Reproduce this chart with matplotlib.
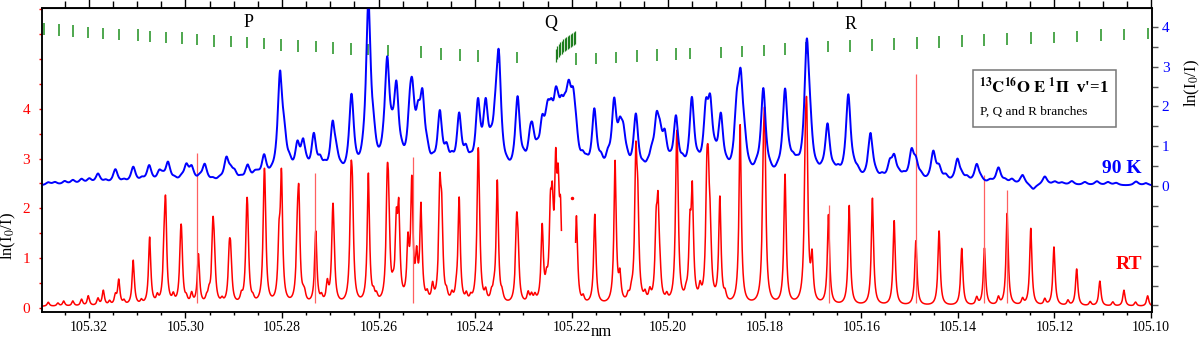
import numpy as np
import matplotlib
matplotlib.use("Agg")
import matplotlib.pyplot as plt
from matplotlib.ticker import MultipleLocator, FormatStrFormatter
from matplotlib.patches import Rectangle

plt.rcParams["font.family"] = ["Liberation Serif", "DejaVu Serif"]
plt.rcParams["mathtext.fontset"] = "stix"

# --- RT spectrum: line centres (nm) and peak heights ln(I0/I), left axis
rt_nm = [105.3284, 105.3264, 105.3252, 105.3233, 105.3215, 105.3201, 105.3181,
         105.3170, 105.3157, 105.3145, 105.3138, 105.3127, 105.3108, 105.3091,
         105.3074, 105.3058, 105.3041, 105.3044, 105.3025, 105.3008, 105.3010,
         105.2998, 105.2987, 105.2973, 105.2956, 105.2951, 105.2943, 105.2940,
         105.2924, 105.2909, 105.2906, 105.2884, 105.2873, 105.2871, 105.2860,
         105.2837, 105.2835, 105.2806, 105.2801, 105.2768, 105.2765, 105.2756,
         105.2753, 105.2730, 105.2718, 105.2706, 105.2695, 105.2693, 105.2657,
         105.2654, 105.2621, 105.2610, 105.2604, 105.2582, 105.2579, 105.2570,
         105.2563, 105.2558, 105.2539, 105.2531, 105.2521, 105.2512, 105.2499,
         105.2488, 105.2473, 105.2469, 105.2459, 105.2448, 105.2439, 105.2433,
         105.2418, 105.2409, 105.2394, 105.2392, 105.2378, 105.2366, 105.2361,
         105.2354, 105.2344, 105.2314, 105.2311, 105.2290, 105.2283, 105.2276,
         105.2261, 105.2252, 105.2244, 105.2240, 105.2233, 105.2228, 105.2223,
         105.2190, 105.2176, 105.2152,
         105.2110, 105.2100, 105.2083, 105.2076, 105.2067, 105.2063, 105.2048,
         105.2038, 105.2025, 105.2021, 105.2017, 105.2003, 105.1983, 105.1981,
         105.1963, 105.1955, 105.1950, 105.1934, 105.1920, 105.1917, 105.1913,
         105.1893, 105.1882, 105.1851, 105.1803, 105.1800, 105.1758, 105.1716,
         105.1713, 105.1702, 105.1668, 105.1625, 105.1577, 105.1532, 105.1487,
         105.1439, 105.1392, 105.1361, 105.1345, 105.1316, 105.1298, 105.1266,
         105.1249, 105.1220, 105.1201, 105.1172, 105.1154, 105.1126, 105.1106,
         105.1079, 105.1056, 105.1032, 105.1007]
rt_peak = [0.08, 0.06, 0.1, 0.1, 0.13, 0.2, 0.14,
           0.3, 0.08, 0.18, 0.5, 0.08, 0.9, 0.08,
           1.35, 0.14, 1.8, 0.8, 0.15, 1.0, 0.8,
           0.1, 0.2, 1.0, 0.1, 0.18, 1.4, 0.7,
           0.08, 0.9, 0.8, 0.14, 1.3, 1.1, 0.08,
           1.75, 1.3, 1.1, 2.45, 1.1, 1.85, 0.1,
           0.14, 1.45, 0.12, 0.38, 1.25, 1.0, 2.05,
           1.6, 2.6, 0.15, 0.12, 2.0, 1.5, 0.15,
           1.4, 1.7, 1.1, 2.35, 0.8, 1.9, 0.15,
           0.32, 2.1, 1.5, 0.15, 0.15, 0.15, 2.1,
           0.15, 0.1, 2.1, 1.4, 0.2, 0.15, 0.15,
           2.45, 0.15, 1.45, 0.8, 0.2, 0.15, 0.13,
           1.5, 0.3, 1.5, 1.5, 2.3, 1.8, 1.5,
           1.75, 0.12, 1.8,
           2.85, 0.5, 0.12, 0.15, 2.7, 1.6, 0.15,
           0.2, 1.3, 1.7, 0.35, 0.12, 1.9, 2.0,
           0.12, 1.3, 2.1, 0.25, 2.0, 1.8, 1.1,
           2.1, 0.15, 3.6, 1.9, 3.0, 2.6, 2.2,
           3.0, 0.85, 1.8, 2.0, 2.15, 1.7, 1.3,
           1.5, 1.15, 0.15, 1.15, 0.15, 1.85, 0.12,
           1.55, 0.12, 1.18, 0.1, 0.74, 0.08, 0.5,
           0.08, 0.32, 0.08, 0.21]

# thin saturated spikes on top of some RT lines
rt_spike_nm = [105.2975, 105.2731, 105.2528, 105.1668, 105.1487, 105.1345, 105.1298]
rt_spike_top = [3.12, 2.7, 3.04, 2.07, 4.7, 2.67, 2.37]

# Q-branch region with no RT data, and the isolated point inside it
rt_gap = [105.2192, 105.2221]
rt_dot_nm = [105.2200]
rt_dot_val = [2.2]

# --- 90 K spectrum: line centres (nm) and peak heights, right axis
k90_nm = [105.3284, 105.3270, 105.3250, 105.3233, 105.3215, 105.3199, 105.3181,
          105.3165, 105.3145, 105.3127, 105.3108, 105.3090, 105.3075, 105.3054,
          105.3047, 105.3036, 105.3022, 105.3008, 105.2998, 105.2987, 105.2970,
          105.2960, 105.2943, 105.2929, 105.2915, 105.2906, 105.2898, 105.2885,
          105.2871, 105.2856, 105.2850, 105.2837, 105.2821, 105.2804, 105.2795,
          105.2784, 105.2768, 105.2756, 105.2748, 105.2734, 105.2721, 105.2711,
          105.2695, 105.2687, 105.2678, 105.2656, 105.2632, 105.2621, 105.2610,
          105.2597, 105.2589, 105.2582, 105.2572, 105.2563, 105.2552, 105.2535,
          105.2530, 105.2518, 105.2509, 105.2499, 105.2487, 105.2473, 105.2459,
          105.2448, 105.2433, 105.2419, 105.2409, 105.2394, 105.2378, 105.2367,
          105.2358, 105.2351, 105.2334, 105.2312, 105.2299, 105.2286, 105.2281,
          105.2271, 105.2261, 105.2253, 105.2249, 105.2242, 105.2233, 105.2228,
          105.2221, 105.2214, 105.2207, 105.2204, 105.2197, 105.2191, 105.2177,
          105.2169, 105.2153, 105.2139, 105.2125, 105.2112, 105.2100, 105.2093,
          105.2085, 105.2067, 105.2052, 105.2042, 105.2034, 105.2024, 105.2017,
          105.2007, 105.1996, 105.1984, 105.1970, 105.1951, 105.1938, 105.1922,
          105.1913, 105.1903, 105.1891, 105.1879, 105.1858, 105.1850, 105.1842,
          105.1831, 105.1817, 105.1803, 105.1789, 105.1773, 105.1758, 105.1748,
          105.1741, 105.1733, 105.1713, 105.1706, 105.1692, 105.1682, 105.1670,
          105.1657, 105.1648, 105.1627, 105.1615, 105.1607, 105.1581, 105.1570,
          105.1557, 105.1541, 105.1532, 105.1522, 105.1512, 105.1496, 105.1487,
          105.1476, 105.1451, 105.1439, 105.1425, 105.1401, 105.1392, 105.1381,
          105.1361, 105.1352, 105.1333, 105.1316, 105.1302, 105.1288, 105.1266,
          105.1244, 105.1220, 105.1199, 105.1184, 105.1164, 105.1137, 105.1112,
          105.1089, 105.1072, 105.1031, 105.1010]
k90_peak = [0.07, 0.07, 0.09, 0.11, 0.13, 0.13, 0.26,
            0.08, 0.37, 0.08, 0.42, 0.1, 0.44, 0.25,
            0.1, 0.5, 0.08, 0.1, 0.4, 0.35, 0.1,
            0.45, 0.08, 0.08, 0.58, 0.2, 0.2, 0.08,
            0.4, 0.15, 0.1, 0.6, 0.08, 2.55, 0.7,
            0.25, 0.75, 0.8, 0.1, 1.05, 0.35, 0.2,
            1.3, 0.35, 0.1, 2.05, 0.1, 4.3, 0.55,
            0.05, 0.2, 2.65, 0.35, 2.0, 0.2, 1.1,
            1.5, 1.0, 1.7, 0.35, 0.2, 1.55, 0.55,
            0.3, 1.5, 0.5, 0.2, 1.75, 1.6, 0.35,
            0.8, 2.8, 0.1, 1.95, 0.2, 0.65, 0.75,
            0.3, 1.0, 0.35, 0.9, 0.9, 1.2, 0.6,
            0.9, 0.8, 1.0, 0.6, 1.3, 0.6, 0.3,
            0.2, 1.65, 0.3, 0.35, 1.75, 0.85, 0.8,
            0.2, 1.55, 0.15, 0.15, 0.4, 1.2, 0.7,
            0.85, 0.15, 1.45, 0.25, 1.95, 0.15, 1.45,
            1.55, 0.2, 1.45, 0.1, 1.4, 2.1, 0.55,
            0.05, 0.15, 2.25, 0.1, 0.12, 2.2, 0.12,
            0.25, 0.18, 3.25, 0.7, 0.08, 0.08, 1.35,
            0.12, 0.17, 2.15, 0.12, 0.17, 1.2, 0.08,
            0.12, 0.4, 0.55, 0.12, 0.12, 0.72, 0.42,
            0.12, 0.75, 0.32, 0.15, 0.58, 0.12, 0.12,
            0.47, 0.08, 0.08, 0.41, 0.08, 0.12, 0.25,
            -0.12, 0.22, 0.08, 0.06, 0.1, 0.08, 0.1,
            0.08, 0.06, 0.1, 0.06]

# --- rotational line markers (nm) and their heights on the left axis
p_mark_nm = [105.3293, 105.3262, 105.3233, 105.3201, 105.3170, 105.3138, 105.3099,
             105.3074, 105.3040, 105.3008, 105.2975, 105.2941, 105.2906, 105.2872,
             105.2837, 105.2802, 105.2766, 105.2730, 105.2694, 105.2656, 105.2621,
             105.2581, 105.2511, 105.2471, 105.2431, 105.2394, 105.2353, 105.2313]
p_mark_y = [5.60, 5.58, 5.56, 5.53, 5.51, 5.49, 5.48,
            5.45, 5.43, 5.42, 5.39, 5.36, 5.35, 5.33,
            5.31, 5.28, 5.26, 5.25, 5.22, 5.20, 5.19,
            5.17, 5.14, 5.10, 5.08, 5.06, 5.04, 5.03]
r_mark_nm = [105.2191, 105.2150, 105.2108, 105.2065, 105.2024, 105.1983, 105.1954,
             105.1891, 105.1848, 105.1802, 105.1758, 105.1715, 105.1670, 105.1624,
             105.1577, 105.1532, 105.1485, 105.1439, 105.1392, 105.1345, 105.1298,
             105.1249, 105.1201, 105.1153, 105.1104, 105.1056, 105.1006]
r_mark_y = [5.00, 5.01, 5.03, 5.06, 5.08, 5.10, 5.11,
            5.13, 5.15, 5.17, 5.20, 5.22, 5.25, 5.26,
            5.28, 5.30, 5.32, 5.34, 5.36, 5.38, 5.40,
            5.42, 5.43, 5.45, 5.48, 5.49, 5.51]
q_mark_nm = [105.2233, 105.2230, 105.2227, 105.2224, 105.2221, 105.2218, 105.2214,
             105.2211, 105.2208, 105.2205, 105.2202, 105.2199, 105.2196, 105.2193]
q_mark_y = [5.07, 5.13, 5.17, 5.20, 5.23, 5.26, 5.28,
            5.31, 5.33, 5.35, 5.37, 5.39, 5.41, 5.43]


def line_profile(x, centres, heights, hwhm):
    c = np.asarray(centres)[:, None]
    h = np.asarray(heights)[:, None]
    return (h * hwhm**2 / ((x[None, :] - c) ** 2 + hwhm**2)).sum(axis=0)


wl = np.linspace(105.0998, 105.3297, 12000)
rt = line_profile(wl, rt_nm, rt_peak, 0.00028) + 0.03
rt[(wl > rt_gap[0]) & (wl < rt_gap[1])] = np.nan
k90 = line_profile(wl, k90_nm, k90_peak, 0.0006)

fig = plt.figure(figsize=(12, 3.4), dpi=100)
ax = fig.add_axes([0.035, 0.0832, 0.925, 0.8918])
ax2 = ax.twinx()

# RT (left axis)
ax.plot(wl, rt, color="#ff0000", lw=1.1)
ax.vlines(rt_spike_nm, 0.1, rt_spike_top, color="#ff6060", lw=0.9)
ax.plot(rt_dot_nm, rt_dot_val, "o", color="#ff0000", ms=1.5)

# line markers
ax.vlines(p_mark_nm, np.array(p_mark_y) - 0.115, np.array(p_mark_y) + 0.115,
          color="#40a040", lw=1.3)
ax.vlines(r_mark_nm, np.array(r_mark_y) - 0.115, np.array(r_mark_y) + 0.115,
          color="#40a040", lw=1.3)
ax.vlines(q_mark_nm, np.array(q_mark_y) - 0.13, np.array(q_mark_y) + 0.13,
          color="#1e7d1e", lw=0.9)

# 90 K (right axis)
ax2.plot(wl, k90, color="#0000ff", lw=1.4)

ax.set_xlim(105.3297, 105.0998)
ax.set_ylim(-0.074, 6.01)
ax2.set_ylim(-3.158, 4.46)

ax.xaxis.set_major_locator(MultipleLocator(0.02))
ax.xaxis.set_minor_locator(MultipleLocator(0.005))
ax.xaxis.set_major_formatter(FormatStrFormatter("%.2f"))
ax.tick_params(axis="x", which="major", direction="out", length=4.5, width=1,
               labelsize=10, pad=2)
ax.tick_params(axis="x", which="minor", direction="out", length=2.5, width=1)

top = ax.secondary_xaxis("top")
top.xaxis.set_major_locator(MultipleLocator(0.02))
top.xaxis.set_minor_locator(MultipleLocator(0.005))
top.tick_params(axis="x", which="major", direction="out", length=7, width=1,
                labeltop=False)
top.tick_params(axis="x", which="minor", direction="out", length=5, width=1)

left_ticks = np.arange(0, 6.01, 0.5)
ax.set_yticks(left_ticks)
ax.set_yticklabels([f"{t:.0f}" if t in (0, 1, 2, 3, 4) else "" for t in left_ticks])
ax.tick_params(axis="y", colors="#ff0000", length=2.5, width=1, labelsize=11, pad=6)

right_ticks = np.arange(-3, 4.01, 0.5)
ax2.set_yticks(right_ticks)
ax2.set_yticklabels([f"{t:.0f}" if t in (0, 1, 2, 3, 4) else "" for t in right_ticks])
ax2.tick_params(axis="y", colors="#555555", labelcolor="#0000ff", length=4.5,
                width=1, labelsize=11, pad=2.5)

for a in (ax, ax2):
    for s in a.spines.values():
        s.set_linewidth(1.1)

ax.set_ylabel(r"ln(I$_0$/I)", fontsize=12)
ax.yaxis.set_label_coords(-0.022, 0.25)
ax2.set_ylabel(r"ln(I$_0$/I)", fontsize=12)
ax2.yaxis.set_label_coords(1.028, 0.755)
ax.text(0.504, -0.067, "nm", transform=ax.transAxes, ha="center", va="center",
        fontsize=12)

ax2.text(0.1856, 0.955, "P", transform=ax2.transAxes, ha="center", va="center",
         fontsize=13)
ax2.text(0.4586, 0.952, "Q", transform=ax2.transAxes, ha="center", va="center",
         fontsize=13)
ax2.text(0.7288, 0.946, "R", transform=ax2.transAxes, ha="center", va="center",
         fontsize=13)

ax2.text(0.991, 0.473, "90 K", transform=ax2.transAxes, ha="right", va="center",
         fontsize=14, fontweight="bold", color="#0000ff")
ax2.text(0.991, 0.155, "RT", transform=ax2.transAxes, ha="right", va="center",
         fontsize=14, fontweight="bold", color="#ff0000")

ax2.add_patch(Rectangle((0.8387, 0.6096), 0.1289, 0.1874, transform=ax2.transAxes,
                        facecolor="white", edgecolor="#777777", lw=1.1, zorder=5))
ax2.text(0.844, 0.741, r"$\mathbf{^{13}C^{16}O\ E\ ^{1}\Pi}$  v'=1",
         transform=ax2.transAxes, ha="left", va="center", fontsize=12,
         fontweight="bold", zorder=6)
ax2.text(0.845, 0.659, "P, Q and R branches", transform=ax2.transAxes,
         ha="left", va="center", fontsize=9.5, zorder=6)

fig.savefig("out.png", dpi=100)
plt.close(fig)
